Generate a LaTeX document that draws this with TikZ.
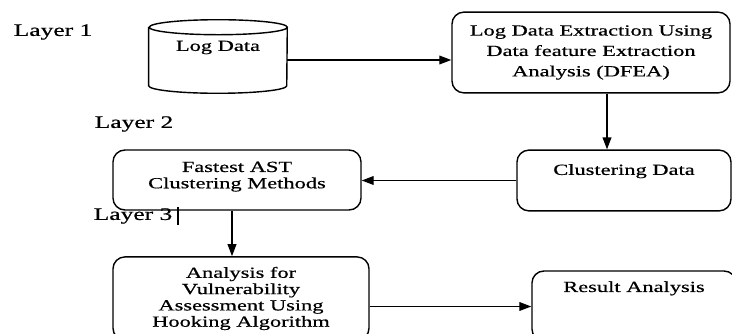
\documentclass[tikz,border=0pt]{standalone}
\usepackage{fontspec}
\setmainfont{Liberation Serif}[FakeStretch=1.45,FakeBold=0.6]
\usetikzlibrary{arrows.meta}

\tikzset{
  stepbox/.style={draw, line width=1pt, rounded corners=0.3cm, align=center,
    font=\fontsize{11}{11.6}\selectfont},
  layerlabel/.style={font=\fontsize{12.5}{14}\selectfont},
  flow/.style={-{Triangle[length=0.3cm,width=0.22cm]}, line width=0.9pt}
}

\begin{document}
\begin{tikzpicture}[x=0.025cm, y=-0.025cm]
    \useasboundingbox (0,0) rectangle (732,334);
    \clip (0,0) rectangle (732,334);
    \node[layerlabel] (l1) at (53, 32) {Layer 1};
    \node[layerlabel] (l2) at (134, 124) {Layer 2};
    \node[layerlabel] (l3) at (133, 216) {Layer 3};
    \draw[line width=1.6pt] (178, 207) -- (178, 225);
    % log data store, drawn round its node
    \node[minimum width=3.45cm, minimum height=1.825cm, inner sep=0pt,
      text height=0.3cm, text depth=0.58cm,
      font=\fontsize{11}{12.3}\selectfont] (logdata) at (218, 56.5) {Log Data};
    \draw[line width=1pt] ([yshift=-0.1875cm]logdata.north west)
      -- ([yshift=0.1875cm]logdata.south west)
      arc[start angle=180, end angle=360, x radius=1.725cm, y radius=0.1875cm]
      -- ([yshift=-0.1875cm]logdata.north east)
      arc[start angle=0, end angle=360, x radius=1.725cm, y radius=0.1875cm];
    \node[stepbox, font=\fontsize{11}{14.5}\selectfont, minimum width=6.95cm,
      minimum height=2.02cm] (dfea) at (591, 52.5)
      {Log Data Extraction Using\\Data feature Extraction\\Analysis (DFEA)};
    \node[stepbox, minimum width=5.35cm, minimum height=1.52cm,
      text height=0.3cm, text depth=0.58cm] (clust) at (624, 180.5)
      {Clustering Data};
    \node[stepbox, minimum width=6.2cm, minimum height=1.5cm,
      text depth=0.25cm] (ast) at (237, 180)
      {Fastest AST\\Clustering Methods};
    \node[stepbox, minimum width=6.4cm, minimum height=2.08cm] (anal) at (241, 298.5)
      {Analysis for\\Vulnerability\\Assessment Using\\Hooking Algorithm};
    \node[stepbox, minimum width=5.1cm, minimum height=1.75cm,
      text height=0.3cm, text depth=1.0cm] (result) at (634, 306)
      {Result Analysis};
    \draw[flow] ([yshift=-0.0875cm]logdata.east) -- ([yshift=-0.0875cm]logdata.east -| dfea.west);
    \draw[flow] ([xshift=0.4cm]dfea.south) -- ([xshift=0.4cm]dfea.south |- clust.north);
    \draw[flow] (clust.west) -- (clust.west -| ast.east);
    \draw[flow] ([xshift=-0.125cm]ast.south) -- ([xshift=-0.125cm]ast.south |- anal.north);
    \draw[flow] ([yshift=-0.2cm]anal.east) -- ([yshift=-0.2cm]anal.east -| result.west);
\end{tikzpicture}
\end{document}
